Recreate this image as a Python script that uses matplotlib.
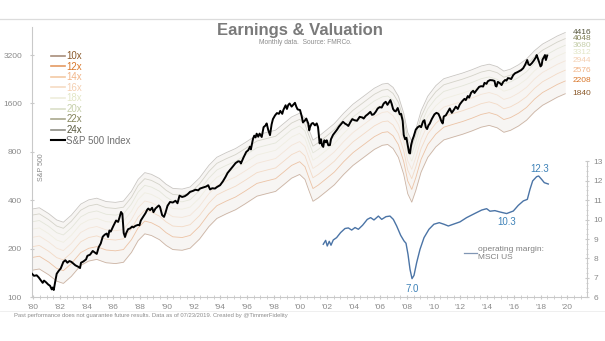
import matplotlib
matplotlib.use("Agg")
import matplotlib.pyplot as plt
from matplotlib.lines import Line2D
from matplotlib.ticker import FixedLocator, NullFormatter
import numpy as np

plt.rcParams['font.family'] = ['Liberation Sans', 'DejaVu Sans']

# ---------------- data ----------------
# S&P 500 index (monthly-ish readings), x in years
sp_t = [1980.95, 1981.1, 1981.3, 1981.45, 1981.6, 1981.75, 1981.85, 1982.0, 1982.17, 1982.3, 1982.43, 1982.5,
        1982.58, 1982.68, 1982.8, 1982.95, 1983.1, 1983.3, 1983.45, 1983.6, 1983.75, 1983.9, 1984.05, 1984.2,
        1984.4, 1984.55, 1984.62, 1984.8, 1985.0, 1985.1, 1985.3, 1985.5, 1985.65, 1985.8, 1985.95, 1986.1,
        1986.25, 1986.4, 1986.55, 1986.65, 1986.75, 1986.85, 1987.05, 1987.25, 1987.4, 1987.5, 1987.62, 1987.72,
        1987.82, 1987.92, 1988.0, 1988.15, 1988.3, 1988.45, 1988.55, 1988.7, 1988.9, 1989.0, 1989.1, 1989.3,
        1989.45, 1989.58, 1989.66, 1989.8, 1989.95, 1990.05, 1990.2, 1990.45, 1990.54, 1990.7, 1990.84, 1990.95,
        1991.1, 1991.29, 1991.5, 1991.7, 1991.85, 1992.0, 1992.2, 1992.4, 1992.6, 1992.79, 1993.0, 1993.2,
        1993.4, 1993.54, 1993.75, 1994.0, 1994.15, 1994.29, 1994.45, 1994.66, 1994.8, 1995.04, 1995.25, 1995.45,
        1995.6, 1995.78, 1996.0, 1996.2, 1996.4, 1996.53, 1996.6, 1996.8, 1997.0, 1997.15, 1997.28, 1997.35,
        1997.5, 1997.6, 1997.7, 1997.78, 1997.9, 1998.0, 1998.16, 1998.3, 1998.45, 1998.53, 1998.65, 1998.78,
        1998.9, 1999.0, 1999.16, 1999.3, 1999.45, 1999.55, 1999.7, 1999.78, 1999.95, 2000.05, 2000.15, 2000.25,
        2000.4, 2000.55, 2000.65, 2000.75, 2000.85, 2001.03, 2001.15, 2001.25, 2001.4, 2001.5, 2001.65, 2001.72,
        2001.78, 2001.9, 2002.0, 2002.15, 2002.28, 2002.38, 2002.5, 2002.6, 2002.68, 2002.77, 2002.85, 2002.95,
        2003.03, 2003.15, 2003.27, 2003.35, 2003.5, 2003.65, 2003.8, 2003.95, 2004.1, 2004.25, 2004.4, 2004.55,
        2004.65, 2004.8, 2004.95, 2005.1, 2005.3, 2005.5, 2005.7, 2005.8, 2005.95, 2006.1, 2006.3, 2006.42,
        2006.55, 2006.7, 2006.85, 2007.0, 2007.15, 2007.3, 2007.45, 2007.58, 2007.7, 2007.8, 2007.9, 2008.0,
        2008.1, 2008.2, 2008.35, 2008.5, 2008.6, 2008.72, 2008.8, 2008.9, 2009.0, 2009.12, 2009.2, 2009.27,
        2009.35, 2009.45, 2009.55, 2009.7, 2009.85, 2010.0, 2010.1, 2010.25, 2010.35, 2010.45, 2010.55, 2010.65,
        2010.75, 2010.9, 2011.1, 2011.25, 2011.4, 2011.5, 2011.62, 2011.72, 2011.8, 2011.95, 2012.1, 2012.25,
        2012.4, 2012.55, 2012.7, 2012.85, 2013.0, 2013.2, 2013.35, 2013.45, 2013.6, 2013.7, 2013.85, 2014.0,
        2014.1, 2014.26, 2014.45, 2014.6, 2014.75, 2014.85, 2015.0, 2015.1, 2015.26, 2015.45, 2015.6, 2015.68,
        2015.75, 2015.85, 2016.0, 2016.13, 2016.25, 2016.4, 2016.5, 2016.6, 2016.75, 2016.85, 2017.0, 2017.15,
        2017.3, 2017.45, 2017.6, 2017.75, 2017.9, 2018.05, 2018.15, 2018.25, 2018.4, 2018.55, 2018.7, 2018.76,
        2018.85, 2018.95, 2019.05, 2019.13, 2019.2, 2019.3, 2019.38, 2019.45, 2019.55]
sp_v = [140, 136, 137, 133, 128, 123, 127, 124, 120, 118, 112, 115,
        111, 124, 140, 146, 151, 166, 170, 164, 168, 166, 162, 158,
        155, 152, 164, 167, 172, 181, 184, 194, 190, 186, 205, 216,
        238, 245, 249, 237, 260, 256, 278, 300, 294, 312, 339, 330,
        251, 237, 250, 265, 268, 275, 272, 278, 282, 280, 300, 318,
        333, 350, 356, 348, 360, 338, 356, 372, 364, 324, 316, 335,
        370, 391, 388, 398, 384, 428, 420, 425, 436, 452, 458, 466,
        462, 474, 480, 488, 497, 468, 476, 474, 484, 497, 525, 560,
        592, 617, 650, 682, 700, 697, 678, 740, 800, 820, 862, 830,
        960, 1010, 985, 1039, 995, 1040, 991, 1140, 1170, 1203, 1095, 1018,
        1185, 1280, 1350, 1395, 1380, 1440, 1380, 1457, 1560, 1480, 1567, 1600,
        1530, 1580, 1616, 1530, 1470, 1457, 1340, 1220, 1256, 1290, 1200, 1090,
        1144, 1200, 1210, 1170, 1203, 1140, 904, 960, 880, 860, 945, 920,
        945, 880, 882, 960, 1020, 1060, 1100, 1150, 1190, 1231, 1200, 1180,
        1160, 1225, 1280, 1260, 1250, 1322, 1310, 1290, 1340, 1370, 1420, 1360,
        1370, 1420, 1490, 1520, 1510, 1600, 1640, 1570, 1630, 1680, 1590, 1480,
        1440, 1430, 1500, 1370, 1380, 1250, 1020, 960, 980, 860, 790, 783,
        880, 950, 1000, 1100, 1140, 1160, 1140, 1240, 1260, 1140, 1110, 1170,
        1200, 1280, 1370, 1400, 1380, 1322, 1240, 1203, 1330, 1350, 1420, 1490,
        1400, 1460, 1530, 1480, 1580, 1660, 1710, 1680, 1780, 1740, 1870, 1920,
        1860, 1939, 2030, 2050, 2040, 2150, 2120, 2200, 2236, 2230, 2210, 2060,
        2040, 2180, 2140, 2083, 2180, 2240, 2220, 2300, 2290, 2270, 2400, 2470,
        2500, 2540, 2580, 2650, 2790, 2980, 2800, 2770, 2850, 2960, 3100, 3200,
        3050, 2880, 2720, 2770, 3000, 3100, 3200, 2980, 3180]

# earnings per share underlying the P/E bands
eps_t = [1980.9, 1981.5, 1982.2, 1982.8, 1983.3, 1983.9, 1984.6, 1985.2, 1985.8, 1986.5, 1987.2, 1987.8,
         1988.4, 1988.9, 1989.4, 1989.9, 1990.5, 1991.0, 1991.5, 1992.2, 1992.8, 1993.5, 1994.2, 1994.8,
         1995.5, 1996.2, 1996.9, 1997.8, 1998.5, 1999.2, 1999.8, 2000.4, 2001.0, 2001.4, 2001.7, 2002.0,
         2002.4, 2003.0, 2003.6, 2004.3, 2005.0, 2005.8, 2006.6, 2007.2, 2007.6, 2008.0, 2008.4, 2008.8,
         2009.1, 2009.4, 2009.7, 2010.1, 2010.6, 2011.2, 2011.8, 2012.5, 2013.2, 2013.9, 2014.6, 2015.2,
         2015.8, 2016.3, 2016.8, 2017.4, 2018.0, 2018.6, 2019.2, 2019.8, 2020.3, 2020.9]
eps_v = [14.7, 15.0, 13.8, 12.6, 12.2, 13.5, 15.8, 16.8, 17.2, 16.4, 16.2, 16.5,
         19.0, 22.5, 24.8, 24.2, 22.8, 21.0, 19.8, 19.6, 20.2, 23.0, 27.5, 30.9,
         33.0, 35.0, 38.0, 42.5, 44.0, 45.5, 50.0, 55.0, 58.0, 54.0, 46.0, 39.5,
         41.5, 45.5, 50.0, 58.0, 66.0, 74.0, 83.0, 88.0, 89.0, 84.0, 74.0, 58.0,
         44.0, 39.0, 46.0, 60.0, 74.0, 86.0, 95.0, 99.0, 103.0, 108.0, 114.0, 117.0,
         113.0, 106.0, 109.0, 116.0, 126.0, 142.0, 156.0, 166.0, 175.0, 184.0]

multiples = [10, 12, 14, 16, 18, 20, 22, 24]
mult_labels = ["10x", "12x", "14x", "16x", "18x", "20x", "22x", "24x"]

# operating margin, MSCI US (%)
mg_t = [2002.77, 2002.95, 2003.07, 2003.22, 2003.35, 2003.52, 2003.77, 2004.07, 2004.4, 2004.65, 2004.9,
        2005.15, 2005.4, 2005.72, 2006.07, 2006.32, 2006.57, 2006.9, 2007.15, 2007.47, 2007.77, 2008.02,
        2008.27, 2008.57, 2008.82, 2008.97, 2009.12, 2009.27, 2009.42, 2009.57, 2009.77, 2010.02, 2010.32,
        2010.69, 2011.06, 2011.46, 2011.81, 2012.14, 2012.51, 2013.01, 2013.51, 2014.14, 2014.64, 2015.01,
        2015.26, 2015.63, 2016.01, 2016.51, 2017.01, 2017.38, 2017.76, 2018.06, 2018.26, 2018.46, 2018.76,
        2018.91, 2019.13, 2019.33, 2019.63]
mg_v = [8.73, 8.93, 8.64, 8.88, 8.68, 8.95, 9.07, 9.33, 9.54, 9.57, 9.46,
        9.59, 9.50, 9.71, 10.01, 10.10, 9.98, 10.18, 10.01, 10.15, 10.18, 10.01,
        9.67, 9.19, 8.90, 8.78, 8.21, 7.44, 6.96, 7.13, 7.79, 8.47, 9.07,
        9.50, 9.76, 9.84, 9.76, 9.67, 9.76, 9.88, 10.10, 10.32, 10.49, 10.56,
        10.43, 10.46, 10.39, 10.31, 10.44, 10.73, 10.96, 11.04, 11.56, 11.99, 12.21,
        12.24, 12.07, 11.90, 11.83]
mg_callouts = [(2009.42, 7.0, "7.0"), (2016.55, 10.3, "10.3"), (2019.0, 12.3, "12.3")]

year_labels = ["'80", "'82", "'84", "'86", "'88", "'90", "'92", "'94", "'96", "'98", "'00",
               "'02", "'04", "'06", "'08", "'10", "'12", "'14", "'16", "'18", "'20"]
year_vals = list(range(1980, 2021, 2))
sp_ticks = [100, 200, 400, 800, 1600, 3200]
mg_ticks = [6, 7, 8, 9, 10, 11, 12, 13]

# ---------------- styles ----------------
band_line_colors = ['#cbb3a3', '#ecc3a5', '#f3dac6', '#f4e5d8', '#f0eee2', '#e4e6da', '#d4d3c9', '#c9c6c2']
legend_line_colors = ['#a88e7a', '#e49a62', '#f3c9a4', '#f6dcc3', '#efeedb', '#dadfc8', '#a9a88e', '#8f8f86']
band_text_colors = ['#8b5a2b', '#d9772a', '#f1b487', '#f4cfb1', '#e2e6c6', '#c6cfaa', '#84845c', '#55553c']
grey = '#8a8a8a'
spine_c = '#c9c9c9'
blue_line = '#4b74a6'
blue_text = '#3e82b8'

W, H = 605, 341
fig = plt.figure(figsize=(W / 100, H / 100), dpi=100)
fig.patch.set_facecolor('white')

ax_l, ax_r, ax_b, ax_t = 32, 587, 297.3, 27
ax = fig.add_axes([ax_l / W, 1 - ax_b / H, (ax_r - ax_l) / W, (ax_b - ax_t) / H])
ax.set_facecolor('none')
ax.set_yscale('log', base=2)
ax.set_ylim(100, 4780)
ax.set_xlim(1980.95, 2022.53)

eps_arr = np.array(eps_v)
ax.fill_between(eps_t, eps_arr * multiples[0], eps_arr * multiples[-1], color='#f7f5f3', lw=0, zorder=1)
for m, c in zip(multiples, band_line_colors):
    ax.plot(eps_t, eps_arr * m, color=c, lw=0.6, zorder=2)
ax.plot(sp_t, sp_v, color='black', lw=1.4, zorder=5, solid_joinstyle='round')

# end-of-band labels
for m, c in zip(multiples, band_text_colors):
    ax.text(2021.45, eps_v[-1] * m, f"{int(round(eps_v[-1] * m))}", color=c, fontsize=6,
            ha='left', va='center', zorder=6)

# axes styling
for s in ['top', 'right']:
    ax.spines[s].set_visible(False)
for s in ['left', 'bottom']:
    ax.spines[s].set_color(spine_c)
    ax.spines[s].set_linewidth(0.8)
ax.yaxis.set_major_locator(FixedLocator(sp_ticks))
ax.set_yticklabels([str(v) for v in sp_ticks])
ax.yaxis.set_minor_formatter(NullFormatter())
ax.yaxis.set_minor_locator(FixedLocator([]))
ax.tick_params(axis='y', which='major', labelsize=6, colors=grey, length=2.5, direction='inout',
               color=spine_c, pad=6)
ax.set_xticks([y + 1.05 for y in year_vals])
ax.set_xticklabels(year_labels)
ax.xaxis.set_minor_locator(FixedLocator([y + 1.05 + k * 0.5 for y in range(1980, 2022) for k in (0, 1)]))
ax.tick_params(axis='x', which='major', labelsize=6, colors=grey, length=3, direction='inout',
               color=spine_c, pad=3)
ax.tick_params(axis='x', which='minor', length=2.5, direction='inout', color=spine_c)
ax.text(0.017, 0.48, "S&P 500", rotation=90, transform=ax.transAxes, fontsize=5, color=grey,
        ha='center', va='center')

# legend for bands
handles = [Line2D([0], [0], color=c, lw=1.2) for c in legend_line_colors]
handles.append(Line2D([0], [0], color='black', lw=1.5))
labels = mult_labels + ["S&P 500 Index"]
leg = ax.legend(handles, labels, loc='upper left', bbox_to_anchor=(51 / W, 1 - 51 / H),
                bbox_transform=fig.transFigure, frameon=False, fontsize=7, handlelength=1.4,
                handletextpad=0.15, labelspacing=0.06, borderpad=0, borderaxespad=0,
                labelcolor=band_text_colors + ['#6f6f6f'])

# margin axis
ax2 = ax.twinx()
ax2.set_ylim(6, 19.91)
ax2.plot(mg_t, mg_v, color=blue_line, lw=1.0, zorder=4)
for xx, yy, txt in mg_callouts:
    dy = -0.3 if txt == "7.0" else (-0.15 if txt == "10.3" else 0.02)
    ax2.text(xx, yy + dy, txt, color=blue_text, fontsize=7, ha='center',
             va='top' if dy < 0 else 'bottom')
for s in ['top', 'left', 'bottom']:
    ax2.spines[s].set_visible(False)
ax2.spines['right'].set_color(spine_c)
ax2.spines['right'].set_linewidth(0.8)
ax2.spines['right'].set_bounds(6, 13)
ax2.set_yticks(mg_ticks)
ax2.set_yticklabels([str(v) for v in mg_ticks])
ax2.yaxis.set_minor_locator(FixedLocator([v + k * 0.25 for v in mg_ticks[:-1] for k in (1, 2, 3)]))
ax2.tick_params(axis='y', which='major', labelsize=6, colors=grey, length=3, direction='inout',
                color=spine_c, pad=3)
ax2.tick_params(axis='y', which='minor', length=2, direction='inout', color=spine_c)
mleg = ax2.legend([Line2D([0], [0], color='#8096b4', lw=0.9)], ["operating margin:\nMSCI US"],
                  loc='upper left', bbox_to_anchor=(464 / W, 1 - 246 / H), bbox_transform=fig.transFigure,
                  frameon=False, fontsize=6, handlelength=1.5, handletextpad=0.15, borderpad=0,
                  borderaxespad=0, labelcolor='#808080')

# titles, frame lines and footnote
fig.add_artist(Line2D([0, 1], [1 - 19 / H] * 2, color='#dcdcdc', lw=0.9, transform=fig.transFigure))
fig.text(300 / W, 1 - 31 / H, "Earnings & Valuation", fontsize=12, fontweight='bold', color='#7a7a7a',
         ha='center', va='center')
fig.text(305 / W, 1 - 43 / H, "Monthly data.  Source: FMRCo.", fontsize=4.8, color='#8c8c8c',
         ha='center', va='center')
fig.add_artist(Line2D([0, 1], [1 - 311 / H] * 2, color='#ececec', lw=0.6, transform=fig.transFigure))
fig.text(14 / W, 1 - 316 / H,
         "Past performance does not guarantee future results. Data as of 07/23/2019. Created by @TimmerFidelity",
         fontsize=4.2, color='#8c8c8c', ha='left', va='center')

fig.savefig("out.png", dpi=100, facecolor='white')
